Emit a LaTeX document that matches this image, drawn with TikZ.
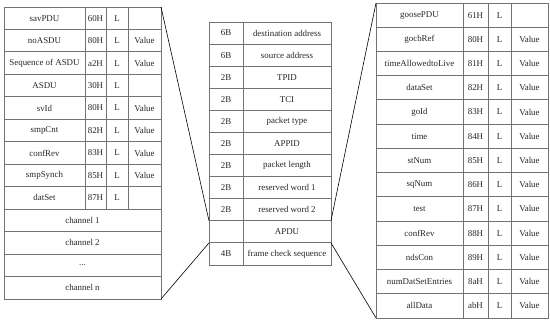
\documentclass[tikz,border=0pt]{standalone}
\usepackage{fontspec}
\setmainfont{Liberation Serif}
\newcommand\tdots{...}
\begin{document}
\begin{tikzpicture}[x=1pt,y=-1pt,
  cellst/.style={draw=black!55,line width=0.9pt,inner sep=0pt,outer sep=0pt,
    font=\fontsize{8.9}{10}\selectfont,text=black!85},
  conn/.style={draw=black,line width=0.6pt}]
\useasboundingbox (0,0) rectangle (550,324);
\newcommand\tcell[6]{%
  \pgfmathsetmacro\cw{#4-#2}\pgfmathsetmacro\ch{#5-#3}%
  \pgfmathsetmacro\cx{(#2+#4)/2}\pgfmathsetmacro\cy{(#3+#5)/2}%
  \node[cellst,minimum width=\cw pt,minimum height=\ch pt] (#1) at (\cx,\cy) {#6};}
% ---------- left table ----------
\foreach \i/\a/\b/\c in {1/savPDU/60H/,2/noASDU/80H/Value,3/Sequence of ASDU/a2H/Value,
  4/ASDU/30H/,5/svId/80H/Value,6/smpCnt/82H/Value,7/confRev/83H/Value,
  8/smpSynch/85H/Value,9/datSet/87H/}{
  \pgfmathsetmacro\ya{7+(\i-1)*22.46}\pgfmathsetmacro\yb{7+\i*22.46}
  \tcell{l-\i-1}{4}{\ya}{85}{\yb}{\a}
  \tcell{l-\i-2}{85}{\ya}{106}{\yb}{\b}
  \tcell{l-\i-3}{106}{\ya}{128}{\yb}{L}
  \tcell{l-\i-4}{128}{\ya}{161}{\yb}{\c}
}
\foreach \i/\a in {10/channel 1,11/channel 2,12/\tdots,13/channel n}{
  \pgfmathsetmacro\ya{7+(\i-1)*22.46}\pgfmathsetmacro\yb{7+\i*22.46}
  \tcell{l-\i-1}{4}{\ya}{161}{\yb}{\a}
}
% ---------- middle table ----------
\foreach \i/\a/\b in {1/6B/destination address,2/6B/source address,3/2B/TPID,4/2B/TCI,
  5/2B/packet type,6/2B/APPID,7/2B/packet length,8/2B/reserved word 1,
  9/2B/reserved word 2,10//APDU,11/4B/frame check sequence}{
  \pgfmathsetmacro\ya{22+(\i-1)*22.09}\pgfmathsetmacro\yb{22+\i*22.09}
  \tcell{m-\i-1}{209}{\ya}{243}{\yb}{\a}
  \tcell{m-\i-2}{243}{\ya}{331}{\yb}{\b}
}
% ---------- right table ----------
\foreach \i/\a/\b/\c in {1/goosePDU/61H/,2/gocbRef/80H/Value,3/timeAllowedtoLive/81H/Value,
  4/dataSet/82H/Value,5/goId/83H/Value,6/time/84H/Value,7/stNum/85H/Value,
  8/sqNum/86H/Value,9/test/87H/Value,10/confRev/88H/Value,11/ndsCon/89H/Value,
  12/numDatSetEntries/8aH/Value,13/allData/abH/Value}{
  \pgfmathsetmacro\ya{3+(\i-1)*24.23}\pgfmathsetmacro\yb{3+\i*24.23}
  \tcell{r-\i-1}{376}{\ya}{463}{\yb}{\a}
  \tcell{r-\i-2}{463}{\ya}{488}{\yb}{\b}
  \tcell{r-\i-3}{488}{\ya}{511}{\yb}{L}
  \tcell{r-\i-4}{511}{\ya}{548}{\yb}{\c}
}
% ---------- connectors ----------
\draw[conn] (l-1-4.north east) -- (m-10-1.north west);
\draw[conn] (l-13-1.south east) -- (m-10-1.south west);
\draw[conn] (m-10-2.north east) -- (r-1-1.north west);
\draw[conn] (m-10-2.south east) -- (r-13-1.south west);
\end{tikzpicture}
\end{document}
